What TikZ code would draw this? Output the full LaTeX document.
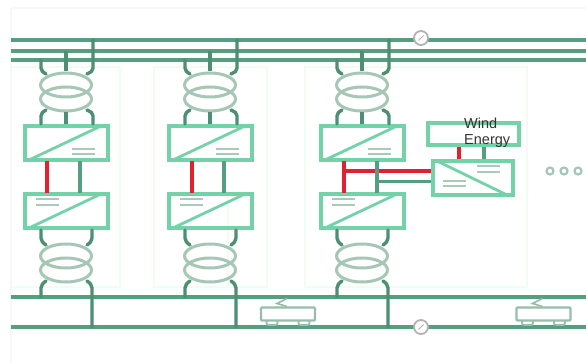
\documentclass[tikz,border=0pt]{standalone}
\usepackage{fontspec}
\setmainfont{Liberation Sans}
\usetikzlibrary{calc,shapes.geometric}
\definecolor{busg}{HTML}{559F80}
\definecolor{boxg}{HTML}{74D2A8}
\definecolor{coilg}{HTML}{A6C6B6}
\definecolor{faintg}{HTML}{F0FDF2}
\definecolor{redl}{HTML}{E3202F}
\definecolor{tickg}{HTML}{A9C9BB}
\tikzset{
  bus/.style={draw=busg,line width=3.4pt},
  lowbus/.style={draw=busg,line width=3.2pt},
  lead/.style={draw=busg!90!black,line width=3.4pt},
  redlink/.style={draw=redl,line width=4pt},
  greenlink/.style={draw=busg,line width=3.8pt},
  conv/.style={draw=boxg,line width=3.2pt,minimum width=83pt,minimum height=34pt,inner sep=0pt},
  wbox/.style={draw=boxg,line width=3.2pt,minimum width=91pt,minimum height=22pt,inner sep=0pt},
  wconvbox/.style={draw=boxg,line width=3.2pt,minimum width=80pt,minimum height=34pt,inner sep=0pt},
  diag/.style={draw=boxg,line width=2.8pt},
  tick/.style={draw=tickg,line width=1.9pt},
  coil/.style={draw=coilg,line width=3pt,ellipse,minimum width=51pt,minimum height=24pt,inner sep=0pt},
  faintbox/.style={draw=faintg,line width=1.2pt},
  swt/.style={circle,draw=black!30,fill=white,line width=1.8pt,minimum size=14pt,inner sep=0pt},
  dotc/.style={circle,draw=coilg,line width=2.2pt,minimum size=7pt,inner sep=0pt},
  trainb/.style={draw=coilg!80!busg,line width=2.2pt,rounded corners=1pt,fill=white,minimum width=54pt,minimum height=13pt,inner sep=0pt},
  wheel/.style={draw=coilg!80!busg,line width=1.8pt,fill=white,minimum width=11pt,minimum height=5pt,inner sep=0pt,rounded corners=2pt},
  lbl/.style={font=\fontsize{14.5}{16}\selectfont,align=left,text=black!80,inner sep=0pt,anchor=north west}
}
\begin{document}
\begin{tikzpicture}[x=1pt,y=-1pt]
\useasboundingbox (0,0) rectangle (586,363);
\fill[white] (0,0) rectangle (586,363);
% faint frames
\draw[faintbox,draw=black!3] (11,8) -- (586,8);
\draw[faintbox,draw=black!3] (11,8) -- (11,363);
\draw[faintbox] (11,67) -- (120,67) -- (120,287) -- (11,287);
\draw[faintbox] (154,67) rectangle (267,287);
\draw[faintbox] (305,67) rectangle (527,287);
\draw[faintbox] (228,190) -- (228,287);
% buses
\coordinate (b1l) at (11,40); \coordinate (b1r) at (586,40);
\coordinate (b2l) at (11,51); \coordinate (b2r) at (586,51);
\coordinate (b3l) at (11,60); \coordinate (b3r) at (586,60);
\coordinate (b4l) at (11,297); \coordinate (b4r) at (586,297);
\coordinate (b5l) at (11,327); \coordinate (b5r) at (586,327);
\foreach \a/\b in {b1l/b1r,b2l/b2r,b3l/b3r} \draw[bus] (\a) -- (\b);
\foreach \a/\b in {b4l/b4r,b5l/b5r} \draw[lowbus] (\a) -- (\b);
\node[swt] (sa) at (421,38) {};
\node[swt] (sb) at (421,327) {};
\draw[black!30,line width=1pt] ($(sa)+(-2.5,2.5)$) -- ($(sa)+(2.5,-2.5)$);
\draw[black!30,line width=1pt] ($(sb)+(-2.5,2.5)$) -- ($(sb)+(2.5,-2.5)$);
% units
\foreach \n/\o/\rx/\gx in {a/0/47/80,b/144/48/80,c/296/48/81}{
  \begin{scope}[xshift=\o pt]
    \node[conv] (up\n) at (66.5,143) {};
    \node[conv] (lo\n) at (66.5,211) {};
    \node[coil] (t1\n) at (66,85) {};
    \node[coil] (t2\n) at (66,99) {};
    \node[coil] (t3\n) at (66,256) {};
    \node[coil] (t4\n) at (66,270) {};
    \draw[lead,line cap=round] (41,60) -- (41,68) .. controls (41,71) and (43,72) .. (46,74);
    \draw[lead] (66,51) -- (t1\n.north);
    \draw[lead,line cap=round] (93,40) -- (93,68) .. controls (93,71) and (91,72) .. (87,74);
    \draw[lead,line cap=round] (41,124) -- (41,116) .. controls (41,113) and (43,112) .. (46,110);
    \draw[lead] (t2\n.south) -- (66,124);
    \draw[lead,line cap=round] (93,124) -- (93,116) .. controls (93,113) and (91,112) .. (87,110);
    \draw[lead,line cap=round] (41,230) -- (41,238) .. controls (41,241) and (43,243) .. (46,245);
    \draw[lead,line cap=round] (92,230) -- (92,238) .. controls (92,241) and (90,243) .. (87,245);
    \draw[lead,line cap=round] (41,297) -- (41,288) .. controls (41,285) and (43,283) .. (46,281);
    \draw[lead,line cap=round] (92,327) -- (92,288) .. controls (92,285) and (90,283) .. (87,281);
    \draw[diag] (29,160) -- (101,126);
    \draw[diag] (29,228) -- (101,194);
    \draw[tick] (72,149) -- (95,149);
    \draw[tick] (72,154) -- (95,154);
    \draw[tick] (36,199) -- (59,199);
    \draw[tick] (36,205) -- (59,205);
    \coordinate (ru\n) at (\rx,161);
    \coordinate (rl\n) at (\rx,193);
    \coordinate (gu\n) at (\gx,161);
    \coordinate (gl\n) at (\gx,193);
    \draw[redlink] (ru\n) -- (rl\n);
    \draw[greenlink] (gu\n) -- (gl\n);
  \end{scope}
}
% wind energy
\node[wbox] (wind) at (473.5,134) {};
\node[lbl] (windt) at (464,117.5) {Wind\\Energy};
\node[wconvbox] (wconv) at (473,178) {};
\draw[diag] (437,161) -- (507,195);
\draw[tick] (477,166) -- (500,166);
\draw[tick] (477,172) -- (500,172);
\draw[tick] (443,181) -- (466,181);
\draw[tick] (443,186) -- (466,186);
\coordinate (wr) at (459,153);
\coordinate (wg) at (484,153);
\draw[redlink] (wind.south -| wr) -- (wconv.north -| wr);
\draw[greenlink] (wind.south -| wg) -- (wconv.north -| wg);
\coordinate (rj) at (344,171);
\coordinate (gj) at (377,182);
\draw[redlink] (rj) -- (rj -| wconv.west);
\draw[greenlink,line width=3pt] (gj) -- (gj -| wconv.west);
\draw[greenlink] (guc) -- (glc);
% dots
\node[dotc] (d1) at (550,171) {};
\node[dotc] (d2) at (564,171) {};
\node[dotc] (d3) at (578,171) {};
% trains
\foreach \n/\x in {p/288,q/543.5}{
  \node[wheel] (wl\n) at (\x-16,322.5) {};
  \node[wheel] (wr\n) at (\x+16,322.5) {};
  \node[trainb] (tr\n) at (\x,314) {};
  \coordinate (pa\n) at (\x-11,303.5);
  \coordinate (pb\n) at (\x-1,298.5);
  \coordinate (pc\n) at (\x-1,306.5);
  \draw[draw=coilg!80!busg,line width=1.6pt] (pb\n) -- (pa\n) -- (pc\n);
}
\end{tikzpicture}
\end{document}
